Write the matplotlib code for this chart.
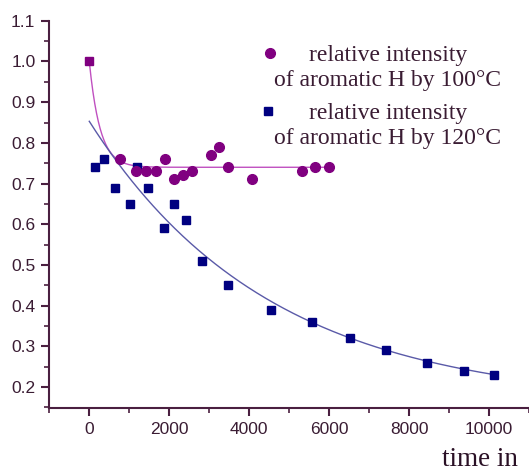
import numpy as np
import matplotlib.pyplot as plt
from matplotlib.ticker import MultipleLocator, FormatStrFormatter

# starting point shared by both series (t = 0)
t_start = [0]
v_start = [1.0]

# relative intensity of aromatic H, 100 C
t_100 = [775, 1175, 1425, 1675, 1883, 2108, 2333, 2567, 3050, 3242, 3467,
         4083, 5333, 5650, 6008]
v_100 = [0.76, 0.73, 0.73, 0.73, 0.76, 0.71, 0.72, 0.73, 0.77, 0.79, 0.74,
         0.71, 0.73, 0.74, 0.74]

# relative intensity of aromatic H, 120 C
t_120 = [133, 367, 633, 1017, 1200, 1467, 1858, 2117, 2408, 2808, 3475,
         4550, 5567, 6533, 7425, 8442, 9367, 10125]
v_120 = [0.74, 0.76, 0.69, 0.65, 0.74, 0.69, 0.59, 0.65, 0.61, 0.51, 0.45,
         0.39, 0.36, 0.32, 0.29, 0.26, 0.24, 0.23]

# exponential fit parameters (y = c + A*exp(-t/tau))
fit_100 = dict(c=0.74, A=0.26, tau=270.0, tmax=6050)
fit_120 = dict(c=0.157, A=0.696, tau=4500.0, tmax=10125)

purple = '#800080'
navy = '#000080'
axcol = '#4a1f40'
txtcol = '#3a1c33'

fig = plt.figure(figsize=(5.29, 4.73), dpi=100)
ax = fig.add_axes([0.0932, 0.138, 0.9068, 0.818])

for f, col in [(fit_100, '#c050c0'), (fit_120, '#5a5aa8')]:
    tt = np.linspace(0, f['tmax'], 400)
    ax.plot(tt, f['c'] + f['A'] * np.exp(-tt / f['tau']), color=col, lw=1.0, zorder=2)

ax.plot(t_120, v_120, 's', color=navy, ms=6.2, mec=navy, zorder=3)
ax.plot(t_100, v_100, 'o', color=purple, ms=7, mec=purple, zorder=4)
ax.plot(t_start, v_start, 's', color=purple, ms=6.2, mec=purple, zorder=5)

ax.set_xlim(-1000, 11000)
ax.set_ylim(0.149, 1.1)
ax.xaxis.set_major_locator(MultipleLocator(2000))
ax.xaxis.set_minor_locator(MultipleLocator(1000))
ax.yaxis.set_major_locator(MultipleLocator(0.1))
ax.yaxis.set_minor_locator(MultipleLocator(0.05))
ax.yaxis.set_major_formatter(FormatStrFormatter('%.1f'))
ax.set_xticks([0, 2000, 4000, 6000, 8000, 10000])

for s in ['top', 'right']:
    ax.spines[s].set_visible(False)
for s in ['left', 'bottom']:
    ax.spines[s].set_color(axcol)
    ax.spines[s].set_linewidth(1.5)
ax.tick_params(which='major', direction='out', length=6, width=1.5, color=axcol,
               labelcolor=txtcol, labelsize=12.5, pad=4)
ax.tick_params(which='minor', direction='out', length=3.5, width=1.2, color=axcol)
for lab in ax.get_xticklabels() + ax.get_yticklabels():
    lab.set_family('Liberation Sans')

# legend drawn by hand: marker left, centred two-line text
ax.plot([0.460], [0.9165], 'o', color=purple, ms=7, transform=ax.transAxes, clip_on=False)
ax.plot([0.456], [0.767], 's', color=navy, ms=6, transform=ax.transAxes, clip_on=False)
ax.text(0.706, 0.879, 'relative intensity\nof aromatic H by 100°C', transform=ax.transAxes,
        ha='center', va='center', multialignment='center', family='Liberation Serif',
        fontsize=17, color=txtcol, linespacing=1.25)
ax.text(0.706, 0.729, 'relative intensity\nof aromatic H by 120°C', transform=ax.transAxes,
        ha='center', va='center', multialignment='center', family='Liberation Serif',
        fontsize=17, color=txtcol, linespacing=1.25)

fig.text(442 / 529, 1 / 473, 'time in', family='Liberation Serif', fontsize=19.5,
         color='#2a1025', ha='left', va='bottom')

fig.savefig('out.png', dpi=100)
